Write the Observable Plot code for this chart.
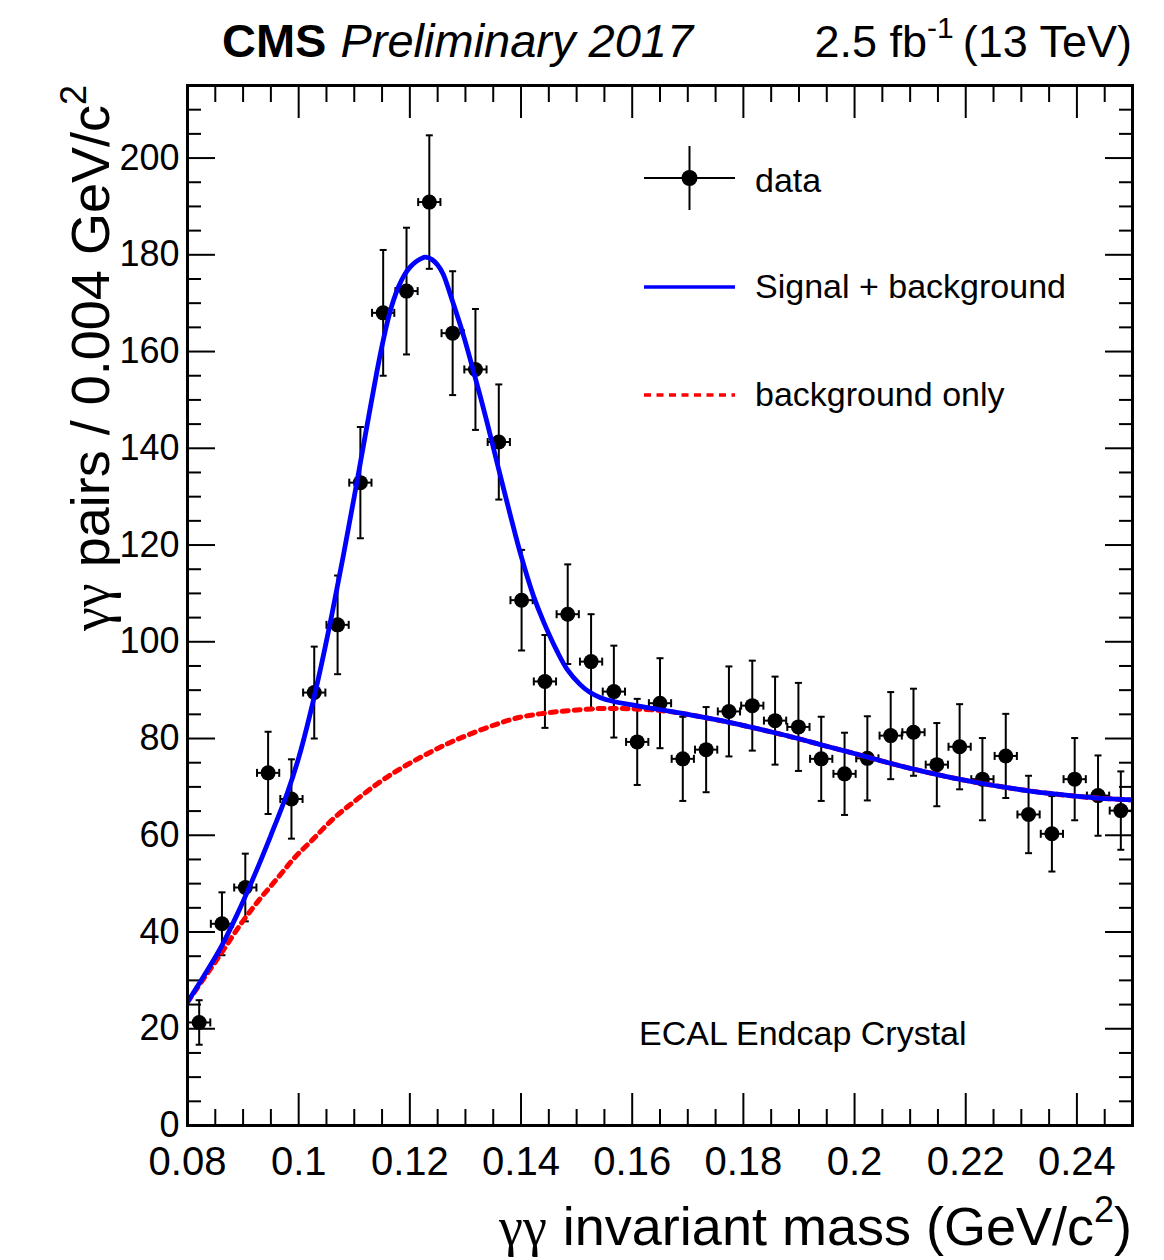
<!DOCTYPE html>
<html>
<head>
<meta charset="utf-8">
<script src="https://cdn.jsdelivr.net/npm/d3@7"></script>
<script src="https://cdn.jsdelivr.net/npm/@observablehq/plot@0.6"></script>
<style>
  html, body { margin: 0; padding: 0; background: #fff; }
  #chart { width: 1164px; height: 1260px; }
</style>
</head>
<body>
<div id="chart"></div>
<script>
// ---- data ----
const massBins = [0.0821, 0.0862, 0.0904, 0.0945, 0.0987, 0.1028, 0.1070, 0.1111, 0.1152, 0.1194,
  0.1235, 0.1277, 0.1318, 0.1360, 0.1401, 0.1443, 0.1484, 0.1526, 0.1567, 0.1609,
  0.1650, 0.1691, 0.1733, 0.1774, 0.1816, 0.1857, 0.1899, 0.1940, 0.1982, 0.2023,
  0.2065, 0.2106, 0.2148, 0.2189, 0.2230, 0.2272, 0.2313, 0.2355, 0.2396, 0.2438, 0.2479];
const counts = [21.3, 41.7, 49.2, 72.9, 67.5, 89.5, 103.5, 132.9, 168.0, 172.5,
  190.9, 163.8, 156.3, 141.3, 108.6, 91.8, 105.7, 95.9, 89.7, 79.3,
  87.3, 75.8, 77.7, 85.6, 86.8, 83.7, 82.4, 75.8, 72.7, 75.9,
  80.6, 81.3, 74.6, 78.3, 71.6, 76.4, 64.3, 60.3, 71.6, 68.2, 65.1];
const countErrors = [4.6, 6.5, 7.0, 8.5, 8.2, 9.5, 10.2, 11.5, 13.0, 13.1,
  13.8, 12.8, 12.5, 11.9, 10.4, 9.6, 10.3, 9.8, 9.5, 8.9,
  9.3, 8.7, 8.8, 9.3, 9.3, 9.1, 9.1, 8.7, 8.5, 8.7,
  9.0, 9.0, 8.6, 8.8, 8.5, 8.7, 8.0, 7.8, 8.5, 8.3, 8.1];
const massHalfWidth = 0.002;

const sbMass = [0.0800, 0.0830, 0.0860, 0.0890, 0.0920, 0.0950, 0.0980, 0.1000, 0.1020, 0.1040,
  0.1060, 0.1080, 0.1100, 0.1120, 0.1140, 0.1150, 0.1160, 0.1170, 0.1180, 0.1190,
  0.1200, 0.1210, 0.1220, 0.1228, 0.1240, 0.1250, 0.1260, 0.1275, 0.1296, 0.1316,
  0.1339, 0.1358, 0.1380, 0.1400, 0.1422, 0.1441, 0.1465, 0.1483, 0.1506, 0.1523,
  0.1542, 0.1565, 0.1607, 0.1649, 0.1690, 0.1732, 0.1774, 0.1815, 0.1856, 0.1898,
  0.1940, 0.1980, 0.2022, 0.2064, 0.2105, 0.2147, 0.2188, 0.2230, 0.2272, 0.2313,
  0.2355, 0.2396, 0.2437, 0.2500];
const sbYield = [25.5, 31.0, 36.8, 43.8, 51.6, 60.0, 68.9, 76.0, 84.8, 94.8,
  105.8, 117.6, 130.0, 142.8, 155.4, 161.2, 166.3, 170.4, 173.5, 175.8,
  177.4, 178.5, 179.2, 179.5, 179.0, 177.9, 176.0, 171.0, 163.5, 155.3,
  145.3, 136.5, 126.5, 117.8, 109.6, 104.0, 98.0, 94.3, 91.2, 89.6,
  88.5, 87.7, 86.8, 86.0, 85.2, 84.3, 83.35, 82.3, 81.2, 80.0,
  78.7, 77.5, 76.2, 74.9, 73.7, 72.6, 71.6, 70.7, 69.9, 69.2,
  68.6, 68.1, 67.7, 67.3];

const bkgMass = [0.0800, 0.0830, 0.0860, 0.0898, 0.0930, 0.0961, 0.0993, 0.1026, 0.1062, 0.1098,
  0.1141, 0.1182, 0.1224, 0.1267, 0.1308, 0.1357, 0.1398, 0.1434, 0.1470, 0.1506,
  0.1542, 0.1578, 0.1607, 0.1649, 0.1690, 0.1732, 0.1774, 0.1815, 0.1856, 0.1898,
  0.1940, 0.1980, 0.2022, 0.2064, 0.2105, 0.2147, 0.2188, 0.2230, 0.2272, 0.2313,
  0.2355, 0.2396, 0.2437, 0.2500];
const bkgYield = [25.5, 30.5, 35.5, 42.0, 46.8, 51.0, 55.4, 59.2, 63.4, 66.8,
  70.6, 73.7, 76.4, 78.9, 80.9, 83.0, 84.4, 85.1, 85.6, 85.95,
  86.2, 86.2, 86.1, 85.8, 85.2, 84.3, 83.35, 82.3, 81.2, 80.0,
  78.7, 77.5, 76.2, 74.9, 73.7, 72.6, 71.6, 70.7, 69.9, 69.2,
  68.6, 68.1, 67.7, 67.3];

const xMajorTicks = [0.08, 0.1, 0.12, 0.14, 0.16, 0.18, 0.2, 0.22, 0.24];
const xMinorTicks = [0.085, 0.09, 0.095, 0.105, 0.11, 0.115, 0.125, 0.13, 0.135, 0.145, 0.15, 0.155,
  0.165, 0.17, 0.175, 0.185, 0.19, 0.195, 0.205, 0.21, 0.215, 0.225, 0.23, 0.235, 0.245];
const yMajorTicks = [0, 20, 40, 60, 80, 100, 120, 140, 160, 180, 200];
const yMinorTicks = [5, 10, 15, 25, 30, 35, 45, 50, 55, 65, 70, 75, 85, 90, 95, 105, 110, 115,
  125, 130, 135, 145, 150, 155, 165, 170, 175, 185, 190, 195, 205, 210];

const legendLabels = ["data", "Signal + background", "background only"];

// ---- build ----
const SANS = "'Liberation Sans', Arial, Helvetica, sans-serif";
const SERIF = "'Liberation Serif', 'DejaVu Serif', serif";

const points = massBins.map((m, i) => ({mass: m, count: counts[i], err: countErrors[i]}));
const sbCurve = sbMass.map((m, i) => ({mass: m, yield: sbYield[i]}));
const bkgCurve = bkgMass.map((m, i) => ({mass: m, yield: bkgYield[i]}));

const hCap = {draw(ctx, size) { const r = Math.sqrt(size / Math.PI); ctx.moveTo(-r, 0); ctx.lineTo(r, 0); }};
const vCap = {draw(ctx, size) { const r = Math.sqrt(size / Math.PI); ctx.moveTo(0, -r); ctx.lineTo(0, r); }};

const tickOpts = {stroke: "black", strokeWidth: 2, label: null};

const chart = Plot.plot({
  width: 1164,
  height: 1260,
  marginLeft: 187,
  marginRight: 32,
  marginTop: 85,
  marginBottom: 135,
  style: {fontFamily: SANS, background: "white", color: "black", overflow: "visible"},
  x: {domain: [0.08, 0.25]},
  y: {domain: [0, 215]},
  marks: [
    // axes: ticks point inward on all four sides
    Plot.axisX(xMajorTicks, {...tickOpts, anchor: "bottom", tickSize: -32, tickPadding: 53, fontSize: 40, fill: "black", tickFormat: d => String(d)}),
    Plot.axisX(xMinorTicks, {...tickOpts, anchor: "bottom", tickSize: -16, fill: "none"}),
    Plot.axisX(xMajorTicks, {...tickOpts, anchor: "top", tickSize: -32, fill: "none"}),
    Plot.axisX(xMinorTicks, {...tickOpts, anchor: "top", tickSize: -16, fill: "none"}),
    Plot.axisY(yMajorTicks, {...tickOpts, anchor: "left", tickSize: -28, tickPadding: 36, fontSize: 36, fill: "black", tickFormat: d => String(d)}),
    Plot.axisY(yMinorTicks, {...tickOpts, anchor: "left", tickSize: -14, fill: "none"}),
    Plot.axisY(yMajorTicks, {...tickOpts, anchor: "right", tickSize: -28, fill: "none"}),
    Plot.axisY(yMinorTicks, {...tickOpts, anchor: "right", tickSize: -14, fill: "none"}),
    // data with error bars
    Plot.ruleX(points, {x: "mass", y1: d => d.count - d.err, y2: d => d.count + d.err, stroke: "black", strokeWidth: 2, clip: true}),
    Plot.ruleY(points, {y: "count", x1: d => d.mass - massHalfWidth, x2: d => d.mass + massHalfWidth, stroke: "black", strokeWidth: 2, clip: true}),
    Plot.dot(points, {x: "mass", y: d => d.count + d.err, symbol: hCap, r: 3.5, fill: "none", stroke: "black", strokeWidth: 2}),
    Plot.dot(points, {x: "mass", y: d => d.count - d.err, symbol: hCap, r: 3.5, fill: "none", stroke: "black", strokeWidth: 2}),
    Plot.dot(points, {x: d => d.mass - massHalfWidth, y: "count", symbol: vCap, r: 4, fill: "none", stroke: "black", strokeWidth: 2}),
    Plot.dot(points, {x: d => d.mass + massHalfWidth, y: "count", symbol: vCap, r: 4, fill: "none", stroke: "black", strokeWidth: 2}),
    Plot.dot(points, {x: "mass", y: "count", r: 7.5, fill: "black", stroke: "none"}),
    // fit curves
    Plot.line(bkgCurve, {x: "mass", y: "yield", stroke: "#ff0000", strokeWidth: 5, strokeDasharray: "6,6", curve: "catmull-rom", clip: true}),
    Plot.line(sbCurve, {x: "mass", y: "yield", stroke: "#0000ff", strokeWidth: 4.8, curve: "catmull-rom", clip: true}),
    Plot.frame({stroke: "black", strokeWidth: 3})
  ]
});

document.getElementById("chart").appendChild(chart);

// ---- annotations (titles, legend) ----
const svg = d3.select(chart);
const g = svg.append("g").attr("font-family", SANS).attr("fill", "black").attr("text-anchor", "start");

// header
const t1 = g.append("text").attr("x", 222).attr("y", 57).attr("font-size", 47).attr("text-anchor", "start");
t1.append("tspan").attr("font-weight", "bold").text("CMS");
t1.append("tspan").attr("font-style", "italic").attr("dx", 14).text("Preliminary 2017");

const t2 = g.append("text").attr("x", 1132).attr("y", 57).attr("font-size", 45).attr("text-anchor", "end");
t2.append("tspan").text("2.5 fb");
t2.append("tspan").attr("font-size", 30).attr("dy", -19).text("-1");
t2.append("tspan").attr("dy", 19).attr("dx", 9).text("(13 TeV)");

// y-axis title
const yt = g.append("text").attr("transform", "translate(109,85) rotate(-90)").attr("text-anchor", "end").attr("font-size", 54);
yt.append("tspan").attr("font-family", SERIF).text("γγ");
yt.append("tspan").attr("dx", 16).text("pairs / 0.004 GeV/c");
yt.append("tspan").attr("font-size", 36).attr("dy", -23).text("2");

// x-axis title
const xt = g.append("text").attr("x", 1132).attr("y", 1245).attr("text-anchor", "end").attr("font-size", 54);
xt.append("tspan").attr("font-family", SERIF).text("γγ");
xt.append("tspan").attr("dx", 16).text("invariant mass (GeV/c");
xt.append("tspan").attr("font-size", 36).attr("dy", -23).text("2");
xt.append("tspan").attr("dy", 23).text(")");

// legend
const lg = g.append("g");
lg.append("line").attr("x1", 644).attr("x2", 735).attr("y1", 178).attr("y2", 178).attr("stroke", "black").attr("stroke-width", 2);
lg.append("line").attr("x1", 689.5).attr("x2", 689.5).attr("y1", 146).attr("y2", 210).attr("stroke", "black").attr("stroke-width", 2);
lg.append("circle").attr("cx", 689.5).attr("cy", 178).attr("r", 8).attr("fill", "black");
lg.append("line").attr("x1", 644).attr("x2", 735).attr("y1", 287).attr("y2", 287).attr("stroke", "#0000ff").attr("stroke-width", 3.5);
lg.append("line").attr("x1", 644).attr("x2", 735).attr("y1", 395).attr("y2", 395).attr("stroke", "#ff0000").attr("stroke-width", 3.5).attr("stroke-dasharray", "7,5.5");
[192, 298, 406].forEach((yy, i) => {
  lg.append("text").attr("x", 755).attr("y", yy).attr("font-size", 34).attr("text-anchor", "start").text(legendLabels[i]);
});

// region label
g.append("text").attr("x", 639).attr("y", 1045).attr("font-size", 34).attr("text-anchor", "start").text("ECAL Endcap Crystal");
</script>
</body>
</html>
